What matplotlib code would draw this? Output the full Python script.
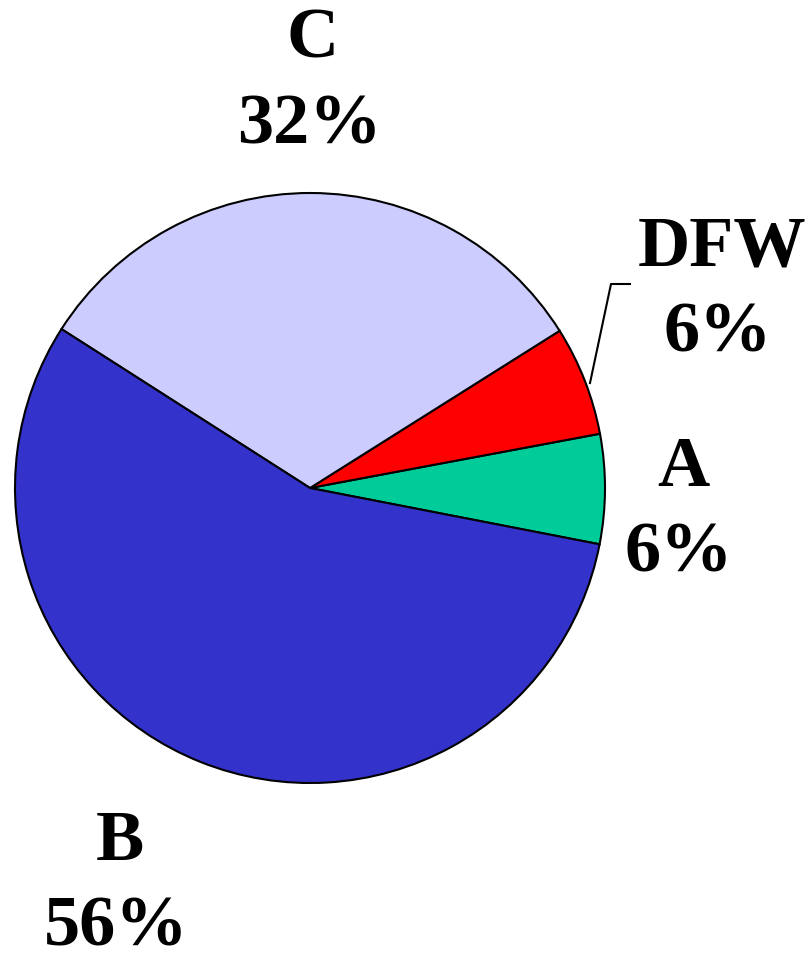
import matplotlib.pyplot as plt

# Data
labels = ['A', 'DFW', 'C', 'B']
shares = [6, 6, 32, 56]
colors = ['#00CC99', '#FF0000', '#CCCCFF', '#3333CC']

W, H = 808, 956
fig = plt.figure(figsize=(W / 100, H / 100), dpi=100)
ax = fig.add_axes([0, 0, 1, 1])
ax.set_xlim(0, W)
ax.set_ylim(0, H)
ax.set_aspect('equal')
ax.axis('off')

ax.pie(shares, colors=colors, startangle=-11, counterclock=True,
       center=(310, H - 488), radius=295,
       wedgeprops=dict(edgecolor='black', linewidth=1.5))
ax.set_xlim(0, W)
ax.set_ylim(0, H)

# label text positions (pixels from top-left)
label_pos = {
    'A': (683, 468),
    'DFW': (722, 248),
    'C': (313, 40),
    'B': (120, 842),
}
font = dict(family=['Liberation Serif', 'DejaVu Serif'], fontweight='bold', fontsize=52)
for lab, val in zip(labels, shares):
    x, y = label_pos[lab]
    ax.text(x, H - y, lab, ha='center', va='center', **font)
    ax.text(x - 4, H - y - 86, f'{val}%', ha='center', va='center', **font)

# leader line for DFW
ax.plot([590, 611, 630], [H - 383, H - 284, H - 284], color='black', lw=1.5)

fig.savefig('out.png', dpi=100)
